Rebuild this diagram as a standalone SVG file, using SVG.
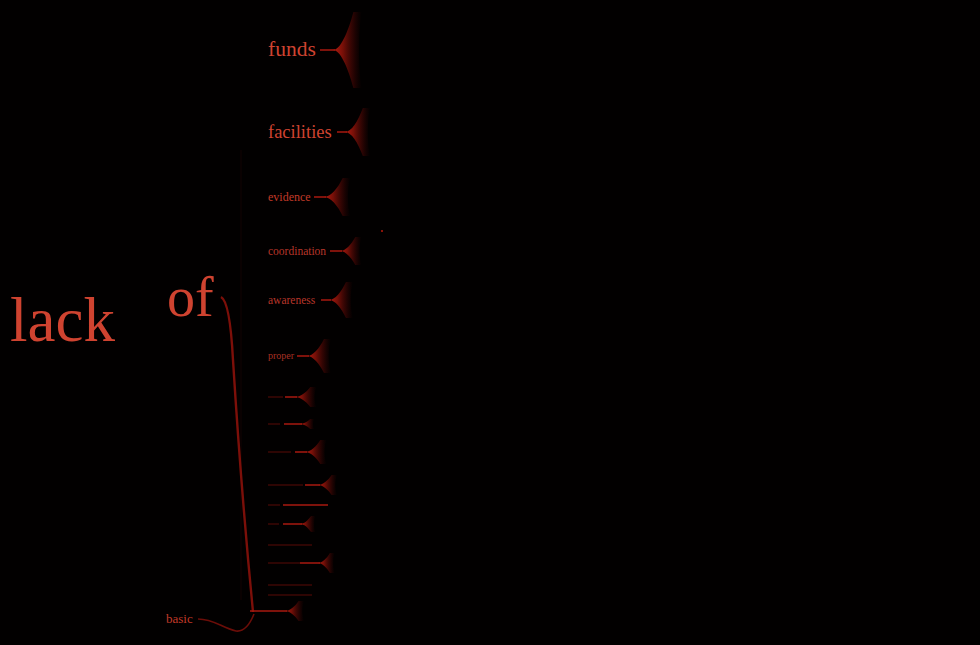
<svg xmlns="http://www.w3.org/2000/svg" width="980" height="645" viewBox="0 0 980 645">
<defs>
<linearGradient id="fg" x1="0" y1="0" x2="1" y2="0">
<stop offset="0" stop-color="#b81c10" stop-opacity="1"/>
<stop offset="0.35" stop-color="#8a1209" stop-opacity="0.85"/>
<stop offset="0.7" stop-color="#5a0906" stop-opacity="0.45"/>
<stop offset="1" stop-color="#3a0404" stop-opacity="0"/>
</linearGradient>
<path id="fan" d="M0,0 C0.3,0 0.62,-0.45 0.85,-1 L1.2,-1 C1.05,-0.5 1.05,0.5 1.2,1 L0.85,1 C0.62,0.45 0.3,0 0,0 Z" fill="url(#fg)"/>
<style>
.w{font-family:"Liberation Serif","DejaVu Serif",serif;fill:#cf4330}
.s{stroke:#a8180f;stroke-width:1.5;fill:none}
.f{stroke:#5a0a06;stroke-width:1;fill:none}
</style>
</defs>
<rect width="980" height="645" fill="#020000"/>
<g id="connectors">
<path d="M241,150 L241,600" stroke="#120303" stroke-width="1" fill="none"/>
<path d="M221,297 C227,300 231,322 233,360 C238,440 245,530 253,612" stroke="#7c0f09" stroke-width="2.4" fill="none"/>
<path d="M198,619 C214,619 222,628 236,631 C244,632 250,624 254,614" stroke="#6c0d08" stroke-width="1.6" fill="none"/>
<path class="s" d="M320,50 H335"/><use href="#fan" transform="translate(333,50) scale(24,38)"/>
<path class="s" d="M337,132 H347"/><use href="#fan" transform="translate(345,132) scale(21,24)"/>
<path class="s" d="M314,197 H326"/><use href="#fan" transform="translate(324,197) scale(22,19)"/>
<path class="s" d="M330,251 H342"/><use href="#fan" transform="translate(340,251) scale(18,14)"/>
<path class="s" d="M321,300 H331"/><use href="#fan" transform="translate(329,300) scale(20,18)"/>
<path class="s" d="M297,356 H309"/><use href="#fan" transform="translate(307,356) scale(20,17)"/>
<rect x="381" y="230" width="2" height="2" fill="#8a1208"/>
<path class="f" d="M268,397 H283"/><path class="s" d="M285,397 H297"/><use href="#fan" transform="translate(295,397) scale(18,10)"/>
<path class="f" d="M268,424 H280"/><path class="s" d="M284,424 H302"/><use href="#fan" transform="translate(300,424) scale(12,5)"/>
<path class="f" d="M268,452 H291"/><path class="s" d="M295,452 H307"/><use href="#fan" transform="translate(305,452) scale(18,12)"/>
<path class="f" d="M268,485 H303"/><path class="s" d="M305,485 H320"/><use href="#fan" transform="translate(318,485) scale(16,10)"/>
<path class="f" d="M268,505 H280"/><path class="s" d="M283,505 H328" stroke-width="1"/>
<path class="f" d="M268,524 H279"/><path class="s" d="M283,524 H302"/><use href="#fan" transform="translate(300,524) scale(13,8)"/>
<path class="f" d="M268,545 H312"/>
<path class="f" d="M268,563 H300"/><path class="s" d="M300,563 H320"/><use href="#fan" transform="translate(318,563) scale(14,10)"/>
<path class="f" d="M268,585 H312"/>
<path class="f" d="M268,595 H312"/>
<path class="s" d="M250,611 H287"/><use href="#fan" transform="translate(285,611) scale(16,10)"/>
</g>
<g id="n-lack"><text class="w" x="10" y="341" font-size="63">lack</text></g>
<g id="n-of"><text class="w" x="167" y="316" font-size="56">of</text></g>
<g id="n-funds"><text class="w" x="268" y="56" font-size="21.5">funds</text></g>
<g id="n-facilities"><text class="w" x="268" y="138" font-size="18.5">facilities</text></g>
<g id="n-evidence"><text class="w" x="268" y="201" font-size="12" style="fill:#c23a28">evidence</text></g>
<g id="n-coordination"><text class="w" x="268" y="255" font-size="11.5" style="fill:#b8362a">coordination</text></g>
<g id="n-awareness"><text class="w" x="268" y="304" font-size="11.5" style="fill:#b8362a">awareness</text></g>
<g id="n-proper"><text class="w" x="268" y="359" font-size="10" style="fill:#a83024">proper</text></g>
<g id="n-basic"><text class="w" x="166" y="623" font-size="13" style="fill:#c23a28">basic</text></g>
</svg>
